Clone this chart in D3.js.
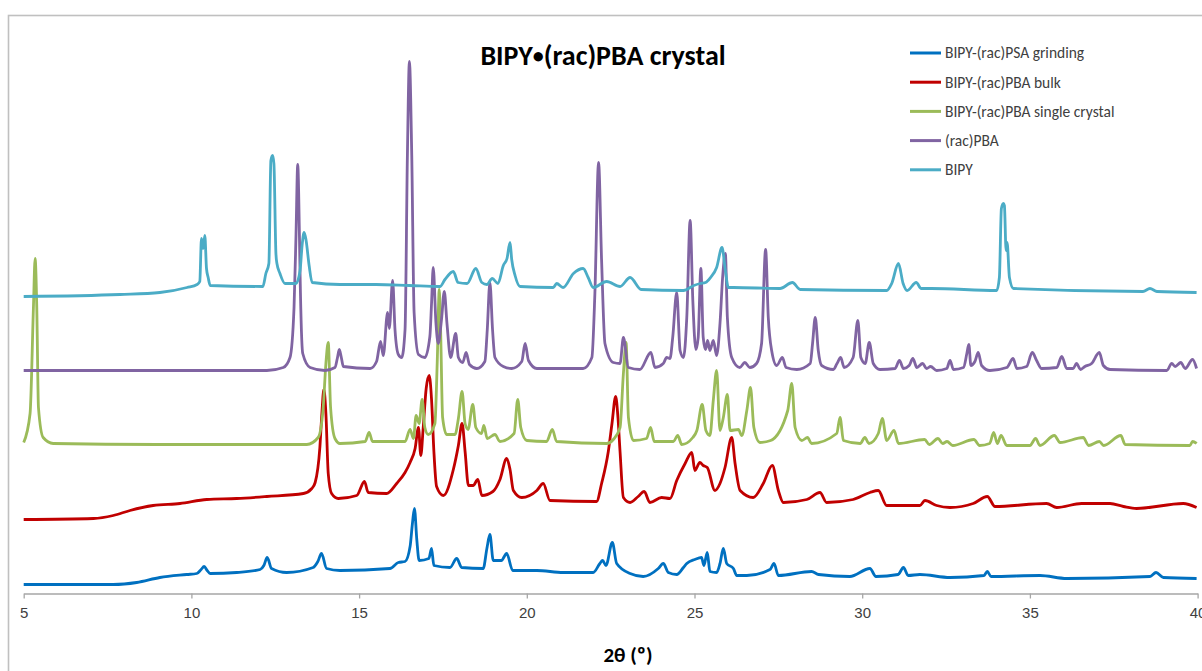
<!DOCTYPE html>
<html>
<head>
<meta charset="utf-8">
<script src="https://cdn.jsdelivr.net/npm/d3@7"></script>
<style>
  body { margin: 0; background: #fff; }
  svg { display: block; font-family: Carlito, Calibri, "Open Sans", sans-serif; }
  .x.axis path, .x.axis line { stroke: #a6a6a6; stroke-width: 1.3px; }
  .x.axis text { fill: #404040; font-size: 15px; }
  .trace { fill: none; stroke-width: 2.8px; stroke-linejoin: round; }
  .legend text { fill: #404040; font-size: 15.5px; }
</style>
</head>
<body>
<script>
// 2-theta ticks
var xTicks = [5, 10, 15, 20, 25, 30, 35, 40];

var seriesNames = ["BIPY-(rac)PSA grinding", "BIPY-(rac)PBA bulk", "BIPY-(rac)PBA single crystal", "(rac)PBA", "BIPY"];

// [2theta, intensity incl. stacking offset]
var grinding = [[5.0, 9], [7.67, 9], [8.37, 11], [9.06, 16], [9.86, 19], [10.16, 20], [10.29, 24], [10.38, 27], [10.47, 23], [10.56, 20],
  [11.35, 21], [12.05, 24], [12.16, 28], [12.26, 36], [12.39, 25], [12.84, 21], [13.63, 26], [13.77, 32], [13.88, 40], [14.03, 25],
  [14.43, 23], [15.92, 25], [16.17, 31], [16.37, 32], [16.52, 47], [16.59, 70], [16.65, 85], [16.72, 54], [16.79, 33], [17.08, 35],
  [17.16, 45], [17.23, 28], [17.71, 26], [17.91, 35], [18.06, 26], [18.70, 25], [18.81, 45], [18.90, 59], [19.00, 33], [19.24, 33],
  [19.40, 40], [19.58, 23], [20.30, 23], [21.09, 21], [21.98, 21], [22.18, 30], [22.26, 33], [22.36, 28], [22.55, 51], [22.68, 30],
  [23.08, 20], [23.47, 17], [23.92, 25], [24.07, 30], [24.22, 21], [24.47, 19], [24.67, 26], [24.77, 30], [25.01, 34], [25.21, 36],
  [25.28, 28], [25.38, 41], [25.46, 22], [25.66, 21], [25.76, 30], [25.86, 45], [25.96, 30], [26.16, 25], [26.26, 18], [26.56, 18],
  [27.25, 24], [27.37, 30], [27.50, 18], [28.49, 22], [28.7, 19], [29.63, 17], [30.23, 25], [30.41, 17], [31.07, 19], [31.23, 26],
  [31.37, 18], [31.72, 19], [32.62, 16], [33.63, 18], [33.73, 22], [33.84, 17], [35.30, 18], [36.10, 15], [38.58, 17], [38.76, 21],
  [38.98, 16], [39.97, 15]];

var bulk = [[5.0, 74], [7.08, 75], [7.67, 78], [8.17, 83], [8.86, 88], [9.66, 90], [10.46, 94], [11.35, 95], [12.25, 97], [13.34, 100],
  [13.59, 105], [13.69, 111], [13.83, 146], [13.89, 180], [13.95, 204], [14.01, 180], [14.08, 120], [14.18, 100], [14.38, 95], [14.93, 98],
  [15.16, 112], [15.27, 101], [15.82, 100], [16.12, 110], [16.37, 121], [16.52, 131], [16.67, 145], [16.77, 166], [16.84, 138], [16.91, 165],
  [17.00, 205], [17.09, 218], [17.16, 194], [17.23, 142], [17.31, 107], [17.51, 98], [17.81, 124], [17.96, 148], [18.07, 170], [18.16, 142],
  [18.26, 108], [18.40, 108], [18.54, 114], [18.66, 98], [18.99, 102], [19.20, 114], [19.40, 135], [19.50, 124], [19.60, 103], [19.85, 96],
  [20.30, 103], [20.49, 110], [20.69, 93], [22.08, 92], [22.23, 110], [22.43, 142], [22.54, 170], [22.65, 197], [22.72, 175], [22.78, 142],
  [22.88, 96], [23.08, 91], [23.32, 97], [23.50, 102], [23.67, 91], [24.02, 96], [24.27, 95], [24.47, 113], [24.72, 130], [24.92, 141],
  [25.01, 123], [25.16, 131], [25.26, 128], [25.38, 126], [25.61, 103], [25.76, 110], [25.91, 126], [26.11, 156], [26.21, 130], [26.36, 103],
  [26.75, 96], [27.05, 110], [27.32, 128], [27.50, 103], [27.65, 91], [28.35, 94], [28.74, 101], [28.94, 91], [29.73, 94], [30.23, 101],
  [30.48, 103], [30.73, 88], [31.72, 88], [31.87, 93], [32.22, 88], [32.62, 86], [33.31, 90], [33.73, 97], [33.96, 87], [35.50, 90],
  [35.80, 86], [36.54, 90], [37.39, 90], [37.79, 87], [38.18, 85], [39.57, 90], [39.97, 86]];

var singleCrystal = [[5.0, 151], [5.19, 180], [5.29, 286], [5.34, 335], [5.39, 286], [5.44, 186], [5.58, 156], [5.88, 150], [9, 149], [12, 149],
  [13.44, 149], [13.78, 156], [13.93, 186], [14.01, 230], [14.08, 251], [14.15, 186], [14.28, 155], [14.43, 150], [15.18, 152], [15.30, 161],
  [15.40, 152], [16.37, 152], [16.52, 164], [16.62, 155], [16.70, 178], [16.79, 170], [16.88, 194], [16.96, 166], [17.06, 159], [17.26, 170],
  [17.33, 232], [17.39, 304], [17.43, 264], [17.49, 176], [17.61, 159], [17.86, 159], [17.96, 175], [18.07, 202], [18.16, 170], [18.25, 164],
  [18.39, 189], [18.48, 166], [18.65, 160], [18.72, 168], [18.82, 155], [19.05, 159], [19.20, 152], [19.62, 160], [19.73, 194], [19.82, 166],
  [20.00, 153], [20.59, 152], [20.76, 164], [20.89, 152], [22.38, 150], [22.58, 154], [22.78, 166], [22.88, 220], [22.96, 251], [23.03, 176],
  [23.18, 153], [23.57, 155], [23.69, 166], [23.80, 152], [24.37, 152], [24.50, 158], [24.62, 149], [24.95, 156], [25.07, 163], [25.23, 189],
  [25.34, 163], [25.46, 158], [25.56, 193], [25.66, 223], [25.76, 163], [25.86, 176], [25.98, 199], [26.06, 163], [26.31, 164], [26.41, 158],
  [26.56, 183], [26.67, 206], [26.77, 166], [26.95, 151], [27.27, 153], [27.78, 183], [27.90, 210], [28.00, 166], [28.20, 153], [28.37, 156],
  [28.49, 150], [29.24, 160], [29.34, 176], [29.44, 153], [29.94, 150], [30.08, 156], [30.20, 150], [30.48, 160], [30.60, 175], [30.73, 153],
  [30.95, 163], [31.08, 150], [31.86, 154], [32.0, 149], [32.26, 155], [32.40, 150], [32.53, 152], [32.7, 148], [33.33, 154], [33.5, 148],
  [33.80, 150], [33.92, 161], [34.03, 150], [34.14, 158], [34.31, 148], [35.0, 148], [35.17, 155], [35.3, 148], [35.73, 158], [35.90, 151],
  [36.59, 156], [36.75, 148], [37.07, 152], [37.2, 148], [37.71, 158], [37.84, 149], [39.77, 148], [39.85, 152], [39.97, 150]];

var racPBA = [[5.0, 223], [8, 223], [11, 223], [12.25, 223], [12.74, 226], [12.94, 236], [13.06, 286], [13.12, 360], [13.17, 429], [13.22, 360],
  [13.24, 320], [13.32, 240], [13.54, 226], [13.98, 223], [14.28, 226], [14.35, 235], [14.41, 244], [14.47, 236], [14.53, 227], [15.33, 225],
  [15.52, 232], [15.64, 252], [15.72, 238], [15.85, 281], [15.90, 265], [16.00, 313], [16.07, 264], [16.17, 239], [16.27, 236], [16.37, 264],
  [16.44, 438], [16.50, 532], [16.57, 438], [16.64, 281], [16.77, 239], [16.96, 236], [17.11, 257], [17.16, 290], [17.21, 326], [17.29, 271],
  [17.36, 250], [17.46, 275], [17.54, 302], [17.62, 270], [17.73, 236], [17.88, 260], [17.96, 236], [18.09, 231], [18.19, 241], [18.29, 229],
  [18.51, 225], [18.75, 232], [18.82, 263], [18.90, 311], [18.98, 263], [19.05, 236], [19.30, 227], [19.55, 225], [19.85, 232], [19.95, 250],
  [20.05, 233], [20.30, 225], [21.68, 225], [21.94, 236], [22.03, 300], [22.14, 431], [22.23, 333], [22.33, 250], [22.58, 231], [22.78, 230],
  [22.88, 256], [23.03, 226], [23.37, 224], [23.70, 241], [23.82, 226], [24.07, 230], [24.17, 236], [24.27, 235], [24.35, 256], [24.47, 301],
  [24.57, 243], [24.67, 236], [24.77, 276], [24.87, 373], [24.95, 293], [25.04, 244], [25.11, 256], [25.19, 325], [25.26, 256], [25.33, 244],
  [25.39, 253], [25.46, 243], [25.56, 253], [25.66, 238], [25.76, 270], [25.84, 317], [25.92, 340], [25.98, 276], [26.11, 236], [26.35, 226],
  [26.50, 231], [26.65, 226], [26.85, 230], [27.00, 250], [27.12, 344], [27.20, 276], [27.30, 243], [27.45, 228], [27.62, 236], [27.73, 226],
  [28.05, 224], [28.45, 230], [28.52, 250], [28.60, 276], [28.69, 243], [28.79, 228], [29.14, 224], [29.25, 230], [29.36, 236], [29.46, 226],
  [29.73, 236], [29.87, 273], [29.96, 236], [30.09, 230], [30.21, 251], [30.33, 230], [30.53, 224], [30.98, 225], [31.11, 233], [31.23, 225],
  [31.40, 228], [31.51, 235], [31.63, 226], [31.80, 230], [31.92, 225], [32.04, 227], [32.22, 223], [32.52, 225], [32.62, 233], [32.72, 224],
  [33.02, 226], [33.12, 240], [33.18, 249], [33.24, 228], [33.36, 232], [33.46, 241], [33.56, 228], [33.81, 223], [34.31, 226], [34.50, 235],
  [34.61, 225], [34.90, 227], [35.07, 241], [35.20, 233], [35.35, 225], [35.80, 226], [35.95, 237], [36.10, 225], [36.29, 225], [36.39, 230],
  [36.51, 224], [36.64, 227], [36.84, 230], [37.07, 241], [37.19, 228], [37.39, 224], [39.08, 223], [39.23, 230], [39.33, 227], [39.50, 231],
  [39.63, 225], [39.85, 234], [39.97, 225]];

var bipy = [[5.0, 297], [7.87, 299], [9.06, 301], [9.87, 306], [10.17, 309], [10.25, 312], [10.30, 355], [10.35, 345], [10.40, 358], [10.45, 325],
  [10.50, 316], [10.56, 308], [12.13, 307], [12.22, 320], [12.31, 330], [12.37, 433], [12.42, 438], [12.46, 430], [12.52, 340], [12.55, 330],
  [12.64, 320], [12.79, 310], [13.12, 310], [13.24, 323], [13.30, 348], [13.36, 361], [13.42, 353], [13.51, 328], [13.60, 311], [14.43, 309],
  [15.5, 309], [16.5, 308], [17.41, 307], [17.56, 314], [17.81, 322], [17.95, 311], [18.22, 310], [18.48, 325], [18.66, 311], [18.81, 309],
  [18.97, 315], [19.14, 310], [19.30, 328], [19.41, 335], [19.50, 351], [19.55, 334], [19.65, 318], [19.80, 307], [20.79, 306], [20.89, 310],
  [21.08, 306], [21.39, 320], [21.68, 325], [21.83, 316], [21.98, 306], [22.38, 312], [22.78, 307], [23.08, 316], [23.41, 304], [24.67, 303],
  [24.98, 308], [25.17, 310], [25.33, 311], [25.48, 316], [25.66, 326], [25.82, 346], [25.92, 323], [26.01, 306], [26.16, 306], [27.55, 305], [27.92, 311],
  [28.15, 304], [30.73, 303], [30.88, 310], [31.08, 330], [31.22, 310], [31.34, 303], [31.61, 311], [31.76, 305], [32.06, 305], [34.01, 303],
  [34.09, 316], [34.15, 385], [34.21, 390], [34.24, 388], [34.29, 343], [34.32, 351], [34.39, 316], [34.51, 305], [38.37, 302], [38.58, 305],
  [38.79, 302], [39.97, 301]];

var seriesData = [grinding, bulk, singleCrystal, racPBA, bipy];
var seriesColors = ["#0070c0", "#c00000", "#9bbb59", "#8064a2", "#4bacc6"];

var width = 1202,
    height = 671;

var x = d3.scaleLinear()
        .domain([5, 40])
        .range([23.7, 1197.6]);

var y = d3.scaleLinear()
        .domain([0, 578])
        .range([593.5, 15.5]);

var xAxis = d3.axisBottom(x)
        .tickValues(xTicks)
        .tickSize(5)
        .tickSizeOuter(0)
        .tickPadding(9);

var line = d3.line()
        .x(function(d) { return x(d[0]); })
        .y(function(d) { return y(d[1]); })
        .curve(d3.curveMonotoneX);

var svg = d3.select("body").append("svg")
        .attr("width", width)
        .attr("height", height);

// chart area border (runs off the bottom/right like the original crop)
svg.append("rect")
        .attr("x", 8.5)
        .attr("y", 15.5)
        .attr("width", 1300)
        .attr("height", 800)
        .style("fill", "#fff")
        .style("stroke", "#c0c0c0")
        .style("stroke-width", 1.6);

svg.append("g")
        .attr("class", "x axis")
        .attr("transform", "translate(0," + y(0) + ")")
        .call(xAxis);

svg.append("g")
        .attr("class", "traces")
    .selectAll("path")
        .data(seriesData)
    .enter().append("path")
        .attr("class", "trace")
        .attr("d", line)
        .style("stroke", function(d, i) { return seriesColors[i]; });

var title = svg.append("text")
        .attr("x", 603)
        .attr("y", 65)
        .style("text-anchor", "middle")
        .style("font-weight", "bold")
        .style("font-size", "28px")
        .style("fill", "#000");
title.append("tspan").text("BIPY");
// smaller bullet, lifted a bit
title.append("tspan")
        .attr("dy", -2)
        .style("font-size", "22px")
        .text("\u2022");
title.append("tspan")
        .attr("dy", 2)
        .text("(rac)PBA crystal");

svg.append("text")
        .attr("x", 628)
        .attr("y", 662)
        .style("text-anchor", "middle")
        .style("font-weight", "bold")
        .style("font-size", "21px")
        .style("fill", "#000")
        .text("2\u03b8 (\u00ba)");

var legend = svg.append("g")
        .attr("class", "legend")
        .attr("transform", "translate(910,53)");

var item = legend.selectAll("g")
        .data(seriesNames)
    .enter().append("g")
        .attr("transform", function(d, i) { return "translate(0," + (i * 29.2) + ")"; });

item.append("line")
        .attr("x1", 0)
        .attr("x2", 31)
        .style("stroke", function(d, i) { return seriesColors[i]; })
        .style("stroke-width", 3);

item.append("text")
        .attr("x", 35)
        .attr("dy", "0.35em")
        .text(function(d) { return d; });
</script>
</body>
</html>
